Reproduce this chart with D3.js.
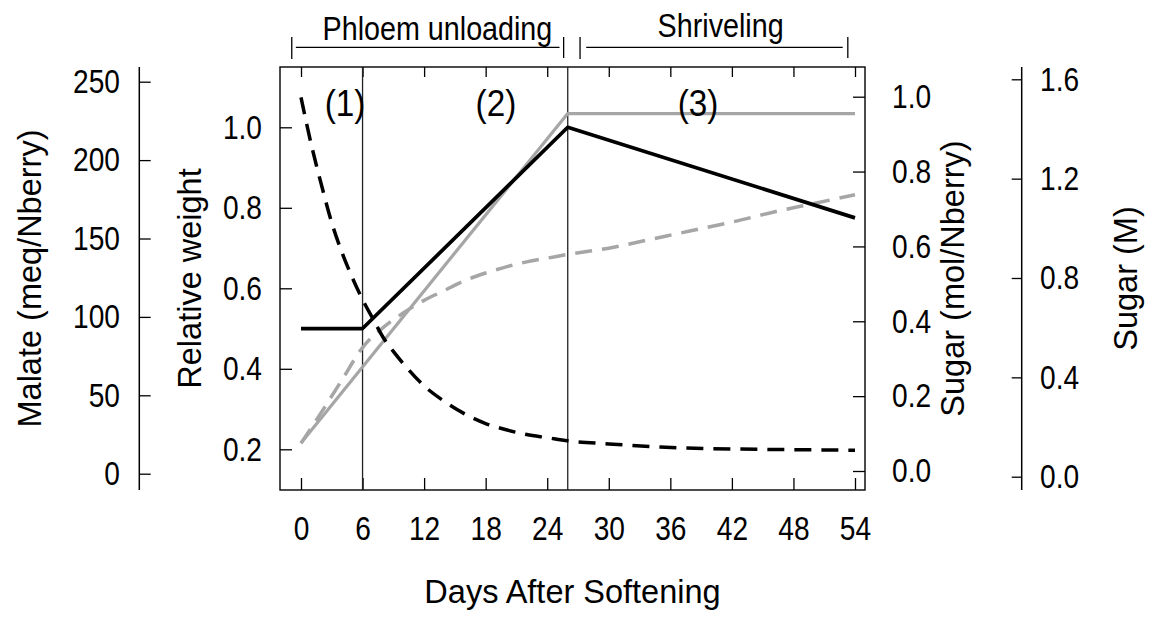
<!DOCTYPE html>
<html>
<head>
<meta charset="utf-8">
<script src="https://cdn.jsdelivr.net/npm/d3@7"></script>
<style>
  html, body { margin: 0; padding: 0; background: #fff; }
  svg { display: block; font-family: "Liberation Sans", Arial, Helvetica, sans-serif; }
</style>
</head>
<body>
<svg id="chart" width="1153" height="619"></svg>
<script>
// ---------------- data ----------------
const dayTicks = [0, 6, 12, 18, 24, 30, 36, 42, 48, 54];
const weightTicks = [0.2, 0.4, 0.6, 0.8, 1.0];
const malateTicks = [0, 50, 100, 150, 200, 250];
const sugarMolTicks = [0.0, 0.2, 0.4, 0.6, 0.8, 1.0];
const sugarMTicks = [0.0, 0.4, 0.8, 1.2, 1.6];

// relative weight (black solid)
const weightDays = [0, 6, 26, 54];
const weightVals = [0.5, 0.5, 1.0, 0.775];

// sugar amount, mol/Nberry (gray solid)
const sugarDays = [0, 26, 54];
const sugarVals = [0.075, 0.955, 0.955];

// sugar concentration, M (gray dashed)
const concDays = [0, 2, 4, 6, 8, 10, 12, 14, 16, 18, 20, 22, 24, 26, 30, 34, 38, 42, 46, 50, 54];
const concVals = [0.135, 0.26, 0.39, 0.52, 0.60, 0.66, 0.71, 0.75, 0.79, 0.82, 0.845, 0.865, 0.88, 0.895, 0.92, 0.955, 0.99, 1.025, 1.065, 1.10, 1.135];

// malate, meq/Nberry (black dashed)
const malateDays = [0, 1, 2, 3, 4, 5, 6, 7, 8, 9, 10, 12, 14, 16, 18, 20, 22, 24, 26, 30, 35, 40, 45, 50, 54];
const malateVals = [240, 210, 184, 160, 141, 125, 111, 99, 87, 78, 70, 56, 46, 38, 32, 28, 25, 23, 21, 19, 17, 16, 15.5, 15.2, 15];

// phase boundaries (days)
const phaseBounds = [6, 26];
const phaseLabels = ["(1)", "(2)", "(3)"];
const stageLabels = ["Phloem unloading", "Shriveling"];

// ---------------- layout ----------------
const svg = d3.select("#chart");
const box = { left: 280, right: 865, top: 67, bottom: 490 };
const GRAY = "#a6a6a6";
const TICK_FS = 33.5, SQ = 0.84;

const x = d3.scaleLinear().domain([0, 54]).range([301, 855]);
const yW = d3.scaleLinear().domain([0.2, 1.0]).range([449.3, 127.3]);
const yMal = d3.scaleLinear().domain([0, 250]).range([473.7, 81.7]);
const ySug = d3.scaleLinear().domain([0, 1]).range([471, 96.7]);
const ySugM = d3.scaleLinear().domain([0, 1.6]).range([476.7, 79.3]);

function squeeze(sel, f) {
  sel.each(function () {
    const t = d3.select(this);
    const xx = +t.attr("x") || 0;
    t.attr("x", xx / f).attr("transform", `scale(${f},1)`);
  });
}
function styleAxis(g, fs) {
  g.select(".domain").remove();
  g.selectAll(".tick line").attr("stroke", "#000").attr("stroke-width", 1.3);
  g.selectAll(".tick text").attr("font-size", fs).attr("fill", "#000")
    .attr("font-family", "Liberation Sans, Arial, sans-serif");
}

// plot box
svg.append("rect")
  .attr("x", box.left).attr("y", box.top)
  .attr("width", box.right - box.left).attr("height", box.bottom - box.top)
  .attr("fill", "none").attr("stroke", "#000").attr("stroke-width", 1.4);

// bottom axis (inward ticks)
const gB = svg.append("g").attr("transform", `translate(0,${box.bottom})`)
  .call(d3.axisBottom(x).tickValues(dayTicks).tickSizeInner(-12).tickSizeOuter(0).tickPadding(26.3).tickFormat(d3.format("d")));
styleAxis(gB, TICK_FS);
squeeze(gB.selectAll(".tick text"), SQ);

// top axis (ticks only)
const gT = svg.append("g").attr("transform", `translate(0,${box.top})`)
  .call(d3.axisTop(x).tickValues(dayTicks).tickSizeInner(-10).tickSizeOuter(0).tickFormat(""));
styleAxis(gT, TICK_FS);

// left inner axis: relative weight
const gW = svg.append("g").attr("transform", `translate(${box.left},0)`)
  .call(d3.axisLeft(yW).tickValues(weightTicks).tickSizeInner(-12).tickSizeOuter(0).tickPadding(18).tickFormat(d3.format(".1f")));
styleAxis(gW, TICK_FS);
squeeze(gW.selectAll(".tick text"), SQ);

// right inner axis: sugar mol/Nberry
const gS = svg.append("g").attr("transform", `translate(${box.right},0)`)
  .call(d3.axisRight(ySug).tickValues(sugarMolTicks).tickSizeInner(-12).tickSizeOuter(0).tickPadding(27).tickFormat(d3.format(".1f")));
styleAxis(gS, TICK_FS);
squeeze(gS.selectAll(".tick text"), SQ);

// outer left axis: malate
const malX = 139.3;
svg.append("line").attr("x1", malX).attr("x2", malX).attr("y1", box.top).attr("y2", box.bottom)
  .attr("stroke", "#000").attr("stroke-width", 1.5);
const gM = svg.append("g").attr("transform", `translate(${malX},0)`)
  .call(d3.axisLeft(yMal).tickValues(malateTicks).tickSizeInner(-11.4).tickSizeOuter(0).tickPadding(19.3).tickFormat(d3.format("d")));
styleAxis(gM, TICK_FS);
squeeze(gM.selectAll(".tick text"), SQ);

// outer right axis: sugar M
const sMX = 1021.7;
svg.append("line").attr("x1", sMX).attr("x2", sMX).attr("y1", box.top).attr("y2", box.bottom)
  .attr("stroke", "#000").attr("stroke-width", 1.5);
const gSM = svg.append("g").attr("transform", `translate(${sMX},0)`)
  .call(d3.axisRight(ySugM).tickValues(sugarMTicks).tickSizeInner(-10).tickSizeOuter(0).tickPadding(18.3).tickFormat(d3.format(".1f")));
styleAxis(gSM, TICK_FS);
squeeze(gSM.selectAll(".tick text"), SQ);

// phase boundary lines
svg.selectAll("line.phase").data(phaseBounds).enter().append("line")
  .attr("class", "phase")
  .attr("x1", d => x(d)).attr("x2", d => x(d))
  .attr("y1", box.top).attr("y2", box.bottom)
  .attr("stroke", "#222").attr("stroke-width", 1.3);

// ---------------- series ----------------
const gLines = svg.append("g");
function drawLine(days, vals, yScale, color, dashed, curve, width) {
  const pts = days.map((d, i) => [d, vals[i]]);
  gLines.append("path")
    .datum(pts)
    .attr("fill", "none")
    .attr("stroke", color)
    .attr("stroke-width", width)
    .attr("stroke-dasharray", dashed ? "17,10" : null)
    .attr("stroke-linejoin", "round")
    .attr("d", d3.line().x(p => x(p[0])).y(p => yScale(p[1])).curve(curve));
}
drawLine(concDays, concVals, ySugM, GRAY, true, d3.curveMonotoneX, 3.5);
drawLine(sugarDays, sugarVals, ySug, GRAY, false, d3.curveLinear, 3.2);
drawLine(weightDays, weightVals, yW, "#000", false, d3.curveLinear, 3.7);
drawLine(malateDays, malateVals, yMal, "#000", true, d3.curveMonotoneX, 3.5);

// ---------------- labels ----------------
const TITLE_FS = 32.5;
function vTitle(txt, bx, cy) {
  svg.append("text").attr("transform", `translate(${bx},${cy}) rotate(-90)`)
    .attr("text-anchor", "middle").attr("font-size", TITLE_FS).attr("fill", "#000").text(txt);
}
const midY = (box.top + box.bottom) / 2;
vTitle("Malate (meq/Nberry)", 41, midY);
vTitle("Relative weight", 201, midY);
vTitle("Sugar (mol/Nberry)", 964, midY);
vTitle("Sugar (M)", 1137, midY);

svg.append("text").attr("x", (box.left + box.right) / 2).attr("y", 603)
  .attr("text-anchor", "middle").attr("font-size", TITLE_FS).attr("fill", "#000")
  .text("Days After Softening");

// phase numbers
const phaseX = [4.3, 19, 38.7];
phaseLabels.forEach((t, i) => {
  svg.append("text").attr("transform", `translate(${x(phaseX[i])},116) scale(0.9,1)`)
    .attr("text-anchor", "middle").attr("font-size", 37).attr("fill", "#000").text(t);
});

// stage brackets at top
const stages = [
  { label: stageLabels[0], bar0: -0.9, l0: -0.5, l1: 25.2, bar1: 25.6, tx: 13.3, base: 40 },
  { label: stageLabels[1], bar0: 27.2, l0: 27.8, l1: 52.8, bar1: 53.3, tx: 40.9, base: 37 }
];
stages.forEach(s => {
  const g = svg.append("g").attr("stroke", "#000").attr("stroke-width", 1.3);
  g.append("line").attr("x1", x(s.l0)).attr("x2", x(s.l1)).attr("y1", 47.3).attr("y2", 47.3);
  g.append("line").attr("x1", x(s.bar0)).attr("x2", x(s.bar0)).attr("y1", 37).attr("y2", 59);
  g.append("line").attr("x1", x(s.bar1)).attr("x2", x(s.bar1)).attr("y1", 37).attr("y2", 58);
  svg.append("text").attr("transform", `translate(${x(s.tx)},${s.base}) scale(0.87,1)`)
    .attr("text-anchor", "middle").attr("font-size", 33).attr("fill", "#000").text(s.label);
});
</script>
</body>
</html>
